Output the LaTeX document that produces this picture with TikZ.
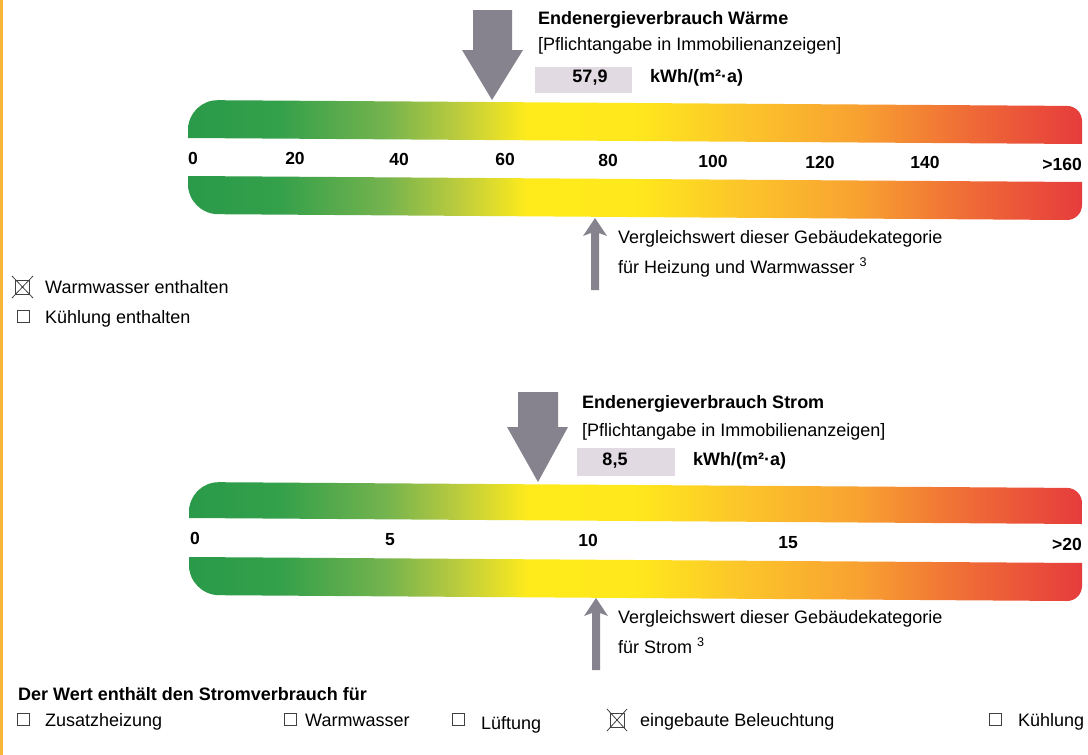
\documentclass[tikz,border=0pt]{standalone}
\usepackage{fontspec}
\setmainfont{Liberation Sans}
\definecolor{eg0}{HTML}{2A9A4A}
\definecolor{eg1}{HTML}{33A04A}
\definecolor{eg2}{HTML}{74B34E}
\definecolor{eg3}{HTML}{BACB3E}
\definecolor{eg4}{HTML}{FFEB1C}
\definecolor{eg5}{HTML}{FFE81C}
\definecolor{eg6}{HTML}{FCC52A}
\definecolor{eg7}{HTML}{F8A131}
\definecolor{eg8}{HTML}{EF6C36}
\definecolor{eg9}{HTML}{E63C3C}
\definecolor{arrowgray}{HTML}{86838E}
\definecolor{valgray}{HTML}{E2DAE2}
\definecolor{edgeorange}{HTML}{F9B53A}
\pgfdeclarehorizontalshading{energy}{100bp}{color(0bp)=(eg0); color(25bp)=(eg0); color(30bp)=(eg1); color(36bp)=(eg2); color(40bp)=(eg3); color(44bp)=(eg4); color(50bp)=(eg5); color(56bp)=(eg6); color(62.5bp)=(eg7); color(68.5bp)=(eg8); color(75bp)=(eg9); color(100bp)=(eg9)}
\begin{document}
\begin{tikzpicture}[x=1pt,y=-1pt,
  txt/.style={inner sep=0pt, font=\fontsize{18}{21}\selectfont},
  btxt/.style={inner sep=0pt, font=\fontsize{18}{21}\selectfont\bfseries},
  lbl/.style={inner sep=0pt, font=\fontsize{17.5}{20}\selectfont\bfseries, anchor=base},
  pointer/.style={fill=arrowgray},
  valbox/.style={fill=valgray, draw=none},
  energybar/.style={shading=energy},
  cbox/.style={draw=black!75, line width=0.7pt, minimum size=12pt, inner sep=0pt},
  xline/.style={draw=black!75, line width=0.8pt}]
\useasboundingbox (0,0) rectangle (1088,755);
\fill[white] (0,0) rectangle (1088,755);
\fill[edgeorange] (0,0) rectangle (3,755);

% ---------- Waerme ----------
\path[energybar] (188,138) -- (188,130) .. controls (188,113.4) and (201.4,100) .. (218,100.2) -- (1067,105.9) .. controls (1075.3,106) and (1082,112.7) .. (1082,121) -- (1082,144) -- cycle;
\path[energybar] (188,176) -- (1082,182) -- (1082,205) .. controls (1082,213.3) and (1075.3,220) .. (1067,220) -- (218,214.2) .. controls (201.4,214) and (188,200.6) .. (188,184) -- cycle;

\node[lbl] (w0) at (193,164) {0};
\node[lbl] (w20) at (295,164.7) {20};
\node[lbl] (w40) at (399,165.4) {40};
\node[lbl] (w60) at (505,165.9) {60};
\node[lbl] (w80) at (608,166.8) {80};
\node[lbl] (w100) at (713,167.5) {100};
\node[lbl] (w120) at (820,168.2) {120};
\node[lbl] (w140) at (925,168.9) {140};
\node[lbl, anchor=base east] (w160) at (1082,170) {>160};

\fill[pointer] (473,10) -- (512,10) -- (512,50) -- (523,50) -- (492,100) -- (462,50) -- (473,50) -- cycle;
\node[btxt, anchor=base west] (wtitle) at (538,24) {Endenergieverbrauch Wärme};
\node[txt, anchor=base west] (wsub) at (538,50) {[Pflichtangabe in Immobilienanzeigen]};
\fill[valbox] (535,67) rectangle (632,93);
\node[btxt, anchor=base] (wval) at (590,82) {57,9};
\node[btxt, anchor=base west] (wunit) at (650,82) {kWh/(m²·a)};

\fill[pointer] (595,218) -- (607,236) -- (599,233) -- (599,290) -- (591,290) -- (591,233) -- (583,236) -- cycle;
\node[txt, anchor=base west] (wcmp1) at (618,243) {Vergleichswert dieser Gebäudekategorie};
\node[txt, anchor=base west] (wcmp2) at (618,273) {für Heizung und Warmwasser \textsuperscript{3}};

\node[cbox, minimum size=14pt] (cbww) at (22.5,287) {};
\draw[xline] (12,276) -- (33,298) (33,276) -- (12,298);
\node[txt, anchor=base west] (tww) at (45,293) {Warmwasser enthalten};
\node[cbox] (cbk) at (23,316.5) {};
\node[txt, anchor=base west] (tk) at (45,323) {Kühlung enthalten};

% ---------- Strom ----------
\path[energybar] (189,518) -- (189,512) .. controls (189,495.4) and (202.4,482) .. (219,482.2) -- (1067,487.9) .. controls (1075.3,488) and (1082,494.7) .. (1082,503) -- (1082,524) -- cycle;
\path[energybar] (189,557) -- (1082,563) -- (1082,586) .. controls (1082,594.3) and (1075.3,601) .. (1067,601) -- (219,595.2) .. controls (202.4,595) and (189,581.6) .. (189,565) -- cycle;

\node[lbl] (s0) at (195,544) {0};
\node[lbl] (s5) at (390,545.4) {5};
\node[lbl] (s10) at (588,546.7) {10};
\node[lbl] (s15) at (788,548) {15};
\node[lbl, anchor=base east] (s20) at (1082,550) {>20};

\fill[pointer] (518,392) -- (558,392) -- (558,427) -- (568,427) -- (538,482) -- (507,427) -- (518,427) -- cycle;
\node[btxt, anchor=base west] (stitle) at (582,408) {Endenergieverbrauch Strom};
\node[txt, anchor=base west] (ssub) at (582,436) {[Pflichtangabe in Immobilienanzeigen]};
\fill[valbox] (577,448) rectangle (675,476);
\node[btxt, anchor=base] (sval) at (615,465) {8,5};
\node[btxt, anchor=base west] (sunit) at (693,465) {kWh/(m²·a)};

\fill[pointer] (596,598) -- (608,616) -- (600,613) -- (600,670) -- (592,670) -- (592,613) -- (584,616) -- cycle;
\node[txt, anchor=base west] (scmp1) at (618,623) {Vergleichswert dieser Gebäudekategorie};
\node[txt, anchor=base west] (scmp2) at (618,653) {für Strom \textsuperscript{3}};

% ---------- bottom ----------
\node[btxt, anchor=base west] (btitle) at (18,700) {Der Wert enthält den Stromverbrauch für};
\node[cbox] (b1) at (23,719.5) {};
\node[txt, anchor=base west] (t1) at (45,726) {Zusatzheizung};
\node[cbox] (b2) at (290,719.5) {};
\node[txt, anchor=base west] (t2) at (305,726) {Warmwasser};
\node[cbox] (b3) at (458,719.5) {};
\node[txt, anchor=base west] (t3) at (481,729) {Lüftung};
\node[cbox, minimum size=14pt] (b4) at (617,720) {};
\draw[xline] (607,709) -- (627,731) (627,709) -- (607,731);
\node[txt, anchor=base west] (t4) at (640,726) {eingebaute Beleuchtung};
\node[cbox] (b5) at (995,719.5) {};
\node[txt, anchor=base west] (t5) at (1018,726) {Kühlung};
\end{tikzpicture}
\end{document}
